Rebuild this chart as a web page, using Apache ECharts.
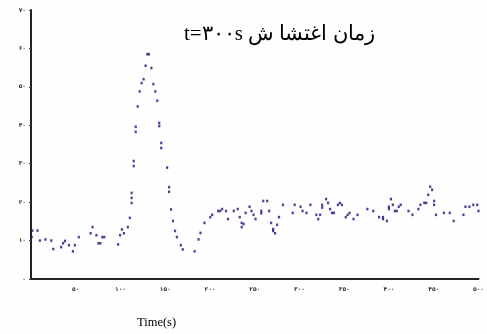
<!DOCTYPE html>
<html><head><meta charset="utf-8">
<script src="https://cdn.jsdelivr.net/npm/echarts@6/dist/echarts.min.js"></script>
<style>html,body{margin:0;padding:0;background:#fff}#c{width:487px;height:334px}</style>
</head><body><div id="c"></div>
<script>
// time values (axis units 0..500)
var timeValues = [0.8,1.4,7.3,9.9,16.1,22.7,24.9,33.7,35.9,38.0,42.4,46.8,49.0,53.4,66.6,68.8,73.1,75.3,77.5,79.7,81.9,
 97.3,99.5,101.6,103.8,108.2,110.4,112.4,112.4,112.4,114.8,114.8,117.0,117.0,119.2,121.4,123.6,125.8,128.0,130.0,131.6,
 134.5,136.7,138.9,141.1,143.3,143.3,145.5,145.5,152.1,154.3,154.3,156.5,158.7,160.9,163.0,167.4,169.6,182.8,187.2,189.4,193.8,
 200.3,202.5,209.1,211.3,213.5,217.9,220.1,226.6,231.0,233.2,235.4,235.4,237.6,239.8,244.2,246.4,248.6,250.8,257.3,257.3,
 259.5,263.9,266.1,268.3,270.5,270.5,272.7,274.9,277.1,281.5,292.4,294.6,301.2,303.4,307.8,312.2,318.8,320.9,323.1,325.3,325.3,
 329.7,331.9,334.1,336.3,338.5,342.9,345.1,347.3,351.7,353.8,356.0,360.4,364.8,375.8,382.4,388.9,393.3,393.3,397.7,399.9,399.9,
 402.1,404.3,406.5,408.7,410.9,413.1,421.8,426.2,432.8,435.0,439.4,441.6,443.8,446.0,448.2,450.4,450.4,452.5,461.3,467.9,472.3,
 483.2,485.4,489.8,494.2,498.6,500];
// measured signal values (axis units 0..70)
var signalValues = [10.9,12.6,12.6,10.0,10.3,10.0,7.8,8.3,9.3,9.9,8.8,7.2,8.8,10.9,11.9,13.5,11.4,9.3,9.3,10.9,10.9,
 9.0,11.4,12.9,11.9,13.5,15.9,19.8,21.1,22.4,29.4,30.7,38.3,39.6,44.9,48.8,51.0,52.0,55.5,58.5,58.5,
 54.9,50.7,48.8,46.4,40.6,39.8,35.4,34.1,29.0,23.9,22.7,18.1,15.1,12.5,10.9,8.8,7.7,7.2,10.3,12.0,14.6,
 16.1,16.7,17.7,17.7,18.2,17.7,15.6,17.7,18.2,16.1,14.6,13.5,14.3,17.2,18.8,17.7,16.7,15.6,17.7,17.1,
 20.3,20.3,17.7,14.6,13.0,12.5,11.9,14.1,16.1,19.3,17.2,19.3,18.8,17.7,17.2,19.3,16.7,15.6,16.7,19.3,18.6,
 20.8,19.8,18.2,17.2,17.2,19.3,19.8,19.3,16.1,16.7,17.2,15.6,16.7,18.2,17.7,16.1,16.1,15.6,15.1,18.8,18.2,
 20.8,19.3,17.7,17.7,18.8,19.3,17.7,16.7,18.2,19.3,19.8,19.8,21.9,24.0,23.2,20.3,19.3,16.7,17.2,17.2,15.1,
 16.7,18.8,18.8,19.3,19.3,17.7];
var xTicks = [0,50,100,150,200,250,300,350,400,450,500];
var yTicks = [0,10,20,30,40,50,60,70];
var titleText = 't=۳۰۰s زمان اغتشا ش';
var xName = 'Time(s)';

function fa(v){return String(v).replace(/\d/g,function(d){return '۰۱۲۳۴۵۶۷۸۹'[+d];});}
var pts = timeValues.map(function(t,i){return [t, signalValues[i]];});
var chart = echarts.init(document.getElementById('c'));
chart.setOption({
  animation:false,
  backgroundColor:'#fefefe',
  grid:{left:31,right:0,top:10,bottom:55,containLabel:false},
  xAxis:{type:'value',min:0,max:500,interval:50,
    axisLine:{show:true,onZero:false,lineStyle:{color:'#222',width:2}},
    axisTick:{show:false},splitLine:{show:false},
    axisLabel:{showMinLabel:false,fontSize:6,fontWeight:'bold',color:'#333',margin:7,fontFamily:'DejaVu Sans',formatter:function(v){return fa(v);}}},
  yAxis:{type:'value',min:0,max:70,interval:10,
    axisLine:{show:true,lineStyle:{color:'#222',width:2}},
    axisTick:{show:true,length:2,lineStyle:{color:'#444'}},splitLine:{show:false},
    axisLabel:{fontSize:6,fontWeight:'bold',color:'#333',margin:5,fontFamily:'DejaVu Sans',formatter:function(v){return fa(v);}}},
  series:[{type:'scatter',data:pts,symbol:'rect',symbolSize:[2.2,2.6],itemStyle:{color:'#16167e'},clip:true}],
  graphic:[
    {type:'text',left:184,top:24,style:{text:titleText,font:'21px "Liberation Serif"',fill:'#000'}},
    {type:'text',left:137,top:316,style:{text:xName,font:'12.5px "Liberation Serif"',fill:'#000'}}
  ]
});
</script></body></html>
